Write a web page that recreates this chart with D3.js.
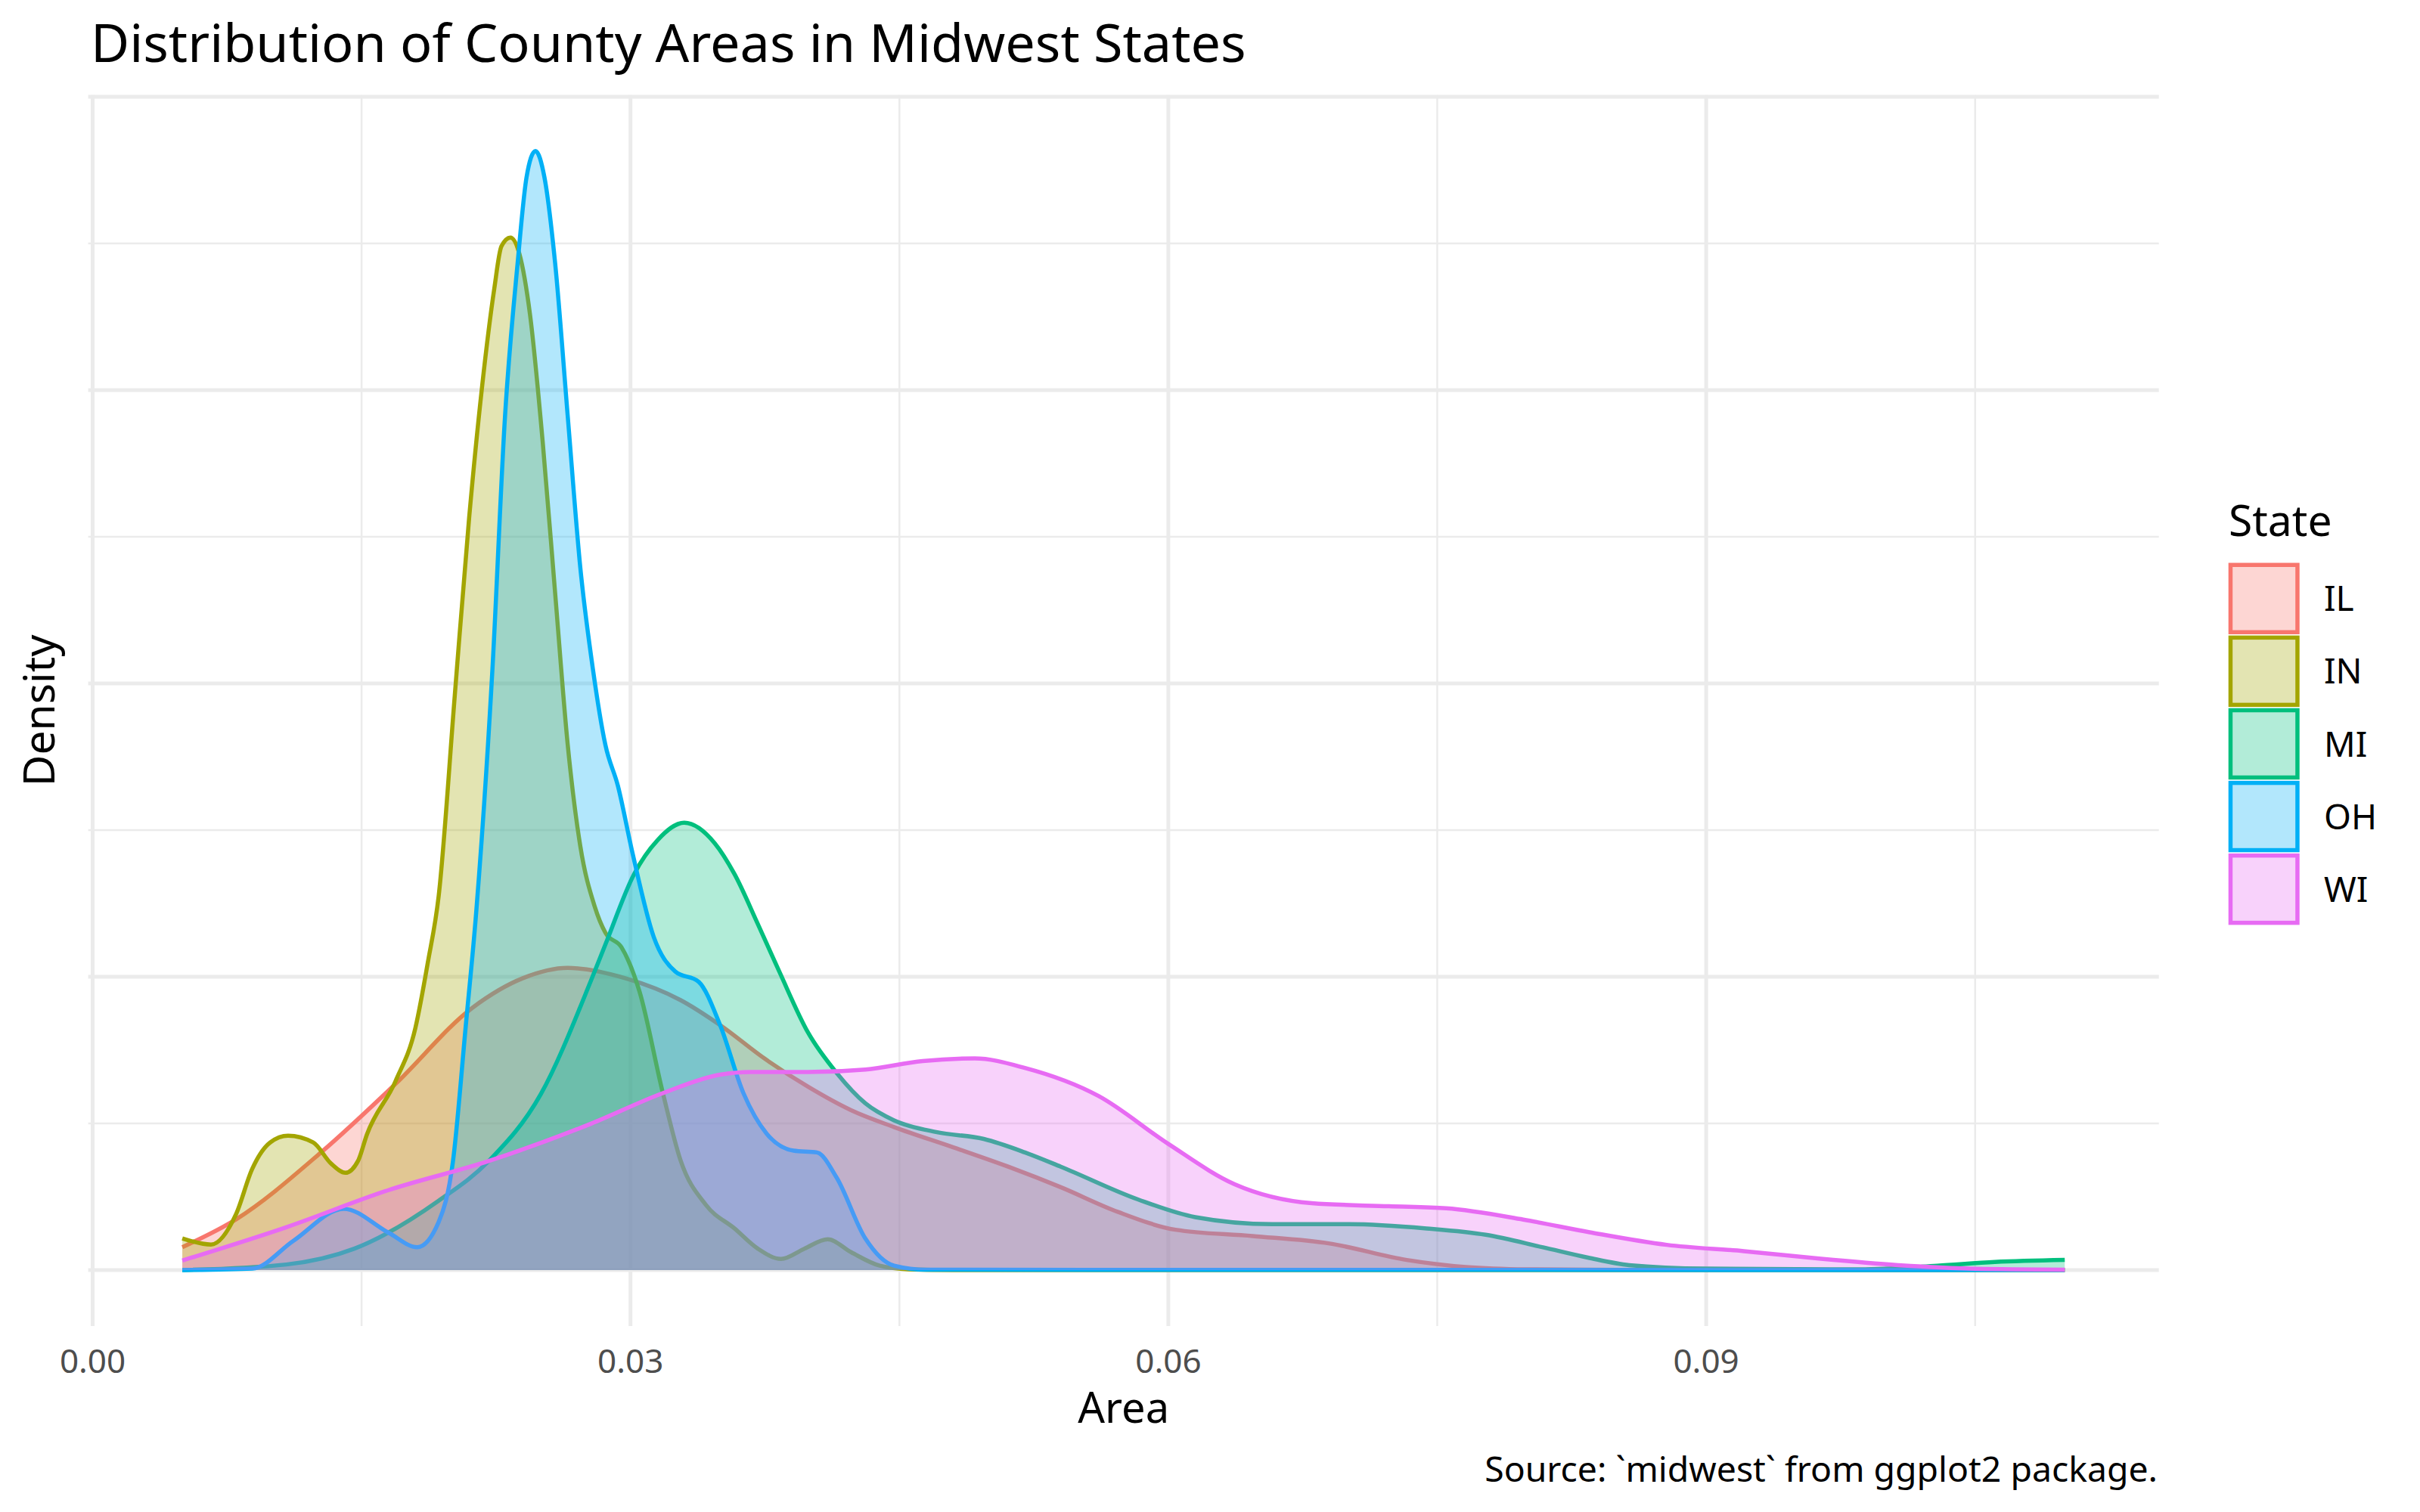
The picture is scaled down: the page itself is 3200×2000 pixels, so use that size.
<!DOCTYPE html>
<html>
<head>
<meta charset="utf-8">
<script src="https://cdn.jsdelivr.net/npm/d3@7"></script>
<style>
  html, body { margin: 0; padding: 0; background: #ffffff; }
  svg { display: block; }
  text { font-family: "Noto Sans", "DejaVu Sans", sans-serif; }
</style>
</head>
<body>
<svg id="chart" width="3200" height="2000"></svg>
<script>
// ---------------- data ----------------
const states = ["IL", "IN", "MI", "OH", "WI"];
const stateColors = ["#F8766D", "#A3A500", "#00BF7D", "#00B0F6", "#E76BF3"];

const areaIL    = [0.0050, 0.0080, 0.0127, 0.0169, 0.0212, 0.0240, 0.0265, 0.0297, 0.0328, 0.0350, 0.0375, 0.0399, 0.0423, 0.0447, 0.0480, 0.0512, 0.0540, 0.0572, 0.0604, 0.0647, 0.0690, 0.0733, 0.0766, 0.0800, 0.0850, 0.1100];
const densityIL = [1.56, 3.46, 7.98, 12.7, 17.9, 19.9, 20.6, 19.9, 18.4, 16.7, 14.4, 12.5, 10.9, 9.75, 8.37, 6.99, 5.65, 3.96, 2.75, 2.32, 1.81, 0.69, 0.21, 0.05, 0.01, 0];

const areaIN    = [0.0050, 0.0066, 0.0080, 0.0089, 0.0099, 0.0109, 0.0123, 0.0133, 0.0141, 0.0148, 0.0153, 0.0169, 0.0180, 0.0187, 0.0193, 0.0202, 0.0210, 0.0217, 0.0224, 0.0228, 0.0233, 0.0238, 0.0244, 0.0251, 0.0258, 0.0265, 0.0272, 0.0280, 0.0286, 0.0295, 0.0305, 0.0318, 0.0328, 0.0342, 0.0358, 0.0371, 0.0384, 0.0397, 0.0410, 0.0423, 0.0439, 0.0455, 0.0480, 0.1100];
const densityIN = [2.16, 1.74, 3.82, 6.9, 8.7, 9.16, 8.7, 7.26, 6.63, 7.44, 9.25, 12.9, 16.5, 21.0, 25.5, 39.2, 51.3, 60.0, 66.9, 69.8, 70.4, 69.3, 65.1, 56.5, 46.1, 35.8, 28.9, 24.8, 23.0, 22.0, 19.0, 12.1, 7.45, 4.45, 2.84, 1.46, 0.76, 1.46, 2.10, 1.22, 0.30, 0.05, 0, 0];

const areaMI    = [0.0050, 0.0108, 0.0146, 0.0193, 0.0221, 0.0250, 0.0278, 0.0286, 0.0302, 0.0315, 0.0330, 0.0347, 0.0358, 0.0371, 0.0383, 0.0399, 0.0415, 0.0431, 0.0447, 0.0471, 0.0497, 0.0520, 0.0540, 0.0583, 0.0615, 0.0658, 0.0701, 0.0744, 0.0777, 0.0809, 0.0834, 0.0857, 0.0900, 0.0986, 0.1029, 0.1061, 0.1100];
const densityMI = [0, 0.38, 1.46, 4.73, 7.44, 12.0, 19.75, 22.2, 27.0, 29.3, 30.5, 29.1, 27.0, 23.6, 20.35, 16.2, 13.44, 11.37, 10.21, 9.40, 8.94, 8.02, 7.05, 4.82, 3.61, 3.13, 3.13, 2.84, 2.41, 1.55, 0.85, 0.34, 0.1, 0.05, 0.30, 0.55, 0.69];

const areaOH    = [0.0050, 0.0089, 0.0112, 0.0140, 0.0165, 0.0181, 0.0193, 0.0201, 0.0208, 0.0214, 0.0223, 0.0230, 0.0237, 0.0242, 0.0247, 0.0252, 0.0258, 0.0265, 0.0272, 0.0279, 0.0286, 0.0293, 0.0301, 0.0313, 0.0325, 0.0338, 0.0350, 0.0363, 0.0376, 0.0391, 0.0404, 0.0415, 0.0431, 0.0447, 0.0465, 0.1100];
const densityOH = [0, 0.1, 2.0, 4.18, 2.55, 1.56, 3.28, 7.44, 16.5, 24.5, 41.0, 58.2, 68.6, 74.5, 76.3, 74.5, 68.6, 58.2, 47.9, 41.0, 35.8, 33.0, 28.5, 22.7, 20.35, 19.66, 16.7, 12.06, 9.29, 8.14, 8.02, 6.3, 2.15, 0.30, 0.02, 0];

const areaWI    = [0.0050, 0.0108, 0.0165, 0.0221, 0.0278, 0.0318, 0.0350, 0.0367, 0.0399, 0.0431, 0.0463, 0.0492, 0.0520, 0.0561, 0.0600, 0.0637, 0.0680, 0.0723, 0.0755, 0.0798, 0.0835, 0.0878, 0.0921, 0.0964, 0.1007, 0.1050, 0.1100];
const densityWI = [0.65, 2.92, 5.45, 7.44, 9.98, 12.06, 13.32, 13.5, 13.5, 13.67, 14.25, 14.43, 13.78, 11.87, 8.6, 5.85, 4.56, 4.35, 4.21, 3.44, 2.58, 1.72, 1.29, 0.77, 0.34, 0.09, 0.03];

const xMajorTicks = [0.00, 0.03, 0.06, 0.09];
const xTickLabels = ["0.00", "0.03", "0.06", "0.09"];
const xMinorTicks = [0.015, 0.045, 0.075, 0.105];
const yMajorTicks = [0, 20, 40, 60, 80];
const yMinorTicks = [10, 30, 50, 70];

const titleText = "Distribution of County Areas in Midwest States";
const xTitle = "Area";
const yTitle = "Density";
const legendTitle = "State";
const captionText = "Source: `midwest` from ggplot2 package.";

// ---------------- layout ----------------
const seriesArea = [areaIL, areaIN, areaMI, areaOH, areaWI];
const seriesDensity = [densityIL, densityIN, densityMI, densityOH, densityWI];

const panel = { left: 116.6, right: 2854.7, top: 125.7, bottom: 1754 };
const xMin = 0.005, xMax = 0.110;
const xPad = (xMax - xMin) * 0.05;
const yMaxData = d3.max(seriesDensity.flat());
const yPad = yMaxData * 0.05;

const x = d3.scaleLinear().domain([xMin - xPad, xMax + xPad]).range([panel.left, panel.right]);
const y = d3.scaleLinear().domain([-yPad, yMaxData + yPad]).range([panel.bottom, panel.top]);

const svg = d3.select("#chart");

// grid
const grid = svg.append("g");
const gridColor = "#EBEBEB";
grid.selectAll(".hminor").data(yMinorTicks).join("line")
  .attr("x1", panel.left).attr("x2", panel.right)
  .attr("y1", d => y(d)).attr("y2", d => y(d))
  .attr("stroke", gridColor).attr("stroke-width", 2.5);
grid.selectAll(".vminor").data(xMinorTicks).join("line")
  .attr("y1", panel.top).attr("y2", panel.bottom)
  .attr("x1", d => x(d)).attr("x2", d => x(d))
  .attr("stroke", gridColor).attr("stroke-width", 2.5);
grid.selectAll(".hmajor").data(yMajorTicks).join("line")
  .attr("x1", panel.left).attr("x2", panel.right)
  .attr("y1", d => y(d)).attr("y2", d => y(d))
  .attr("stroke", gridColor).attr("stroke-width", 5);
grid.selectAll(".vmajor").data(xMajorTicks).join("line")
  .attr("y1", panel.top).attr("y2", panel.bottom)
  .attr("x1", d => x(d)).attr("x2", d => x(d))
  .attr("stroke", gridColor).attr("stroke-width", 5);

// densities
const areaGen = d3.area().curve(d3.curveMonotoneX)
  .x(d => x(d[0])).y0(y(0)).y1(d => y(d[1]));
const lineGen = d3.line().curve(d3.curveMonotoneX)
  .x(d => x(d[0])).y(d => y(d[1]));

const marks = svg.append("g");
states.forEach((s, i) => {
  const pts = seriesArea[i].map((a, k) => [a, seriesDensity[i][k]]);
  marks.append("path").datum(pts)
    .attr("d", areaGen)
    .attr("fill", stateColors[i]).attr("fill-opacity", 0.3).attr("stroke", "none");
  marks.append("path").datum(pts)
    .attr("d", lineGen)
    .attr("fill", "none").attr("stroke", stateColors[i])
    .attr("stroke-width", 5.5).attr("stroke-linejoin", "round").attr("stroke-linecap", "butt");
});

// x tick labels
svg.append("g").selectAll("text").data(xMajorTicks).join("text")
  .attr("x", d => x(d)).attr("y", 1816)
  .attr("text-anchor", "middle")
  .attr("font-size", 44).attr("fill", "#4D4D4D")
  .text((d, i) => xTickLabels[i]);

// axis titles
svg.append("text").attr("x", (panel.left + panel.right) / 2).attr("y", 1882)
  .attr("text-anchor", "middle").attr("font-size", 56).attr("fill", "#000")
  .text(xTitle);
svg.append("text")
  .attr("transform", `translate(72,${(panel.top + panel.bottom) / 2}) rotate(-90)`)
  .attr("text-anchor", "middle").attr("font-size", 57).attr("fill", "#000")
  .text(yTitle);

// title
const title = svg.append("text").attr("x", 120).attr("y", 82)
  .attr("font-size", 70).attr("fill", "#000").text(titleText);
{
  const w = title.node().getComputedTextLength();
  const target = 1528;
  title.attr("font-size", 70 * target / w);
}

// caption
const cap = svg.append("text").attr("x", 2853).attr("y", 1960)
  .attr("text-anchor", "end").attr("font-size", 46).attr("fill", "#000")
  .text(captionText);
{
  const w = cap.node().getComputedTextLength();
  cap.attr("font-size", 46 * 890 / w);
}

// legend
const legend = svg.append("g");
legend.append("text").attr("x", 2947).attr("y", 709)
  .attr("font-size", 57).attr("fill", "#000").text(legendTitle);
const keyX = 2946.7, keyW = 94, keyH = 94.5, keyTop = 744.5, keyStep = 96.1, sw = 5.5;
states.forEach((s, i) => {
  const ky = keyTop + i * keyStep;
  legend.append("rect")
    .attr("x", keyX + sw / 2).attr("y", ky + sw / 2)
    .attr("width", keyW - sw).attr("height", keyH - sw)
    .attr("fill", stateColors[i]).attr("fill-opacity", 0.3)
    .attr("stroke", stateColors[i]).attr("stroke-width", sw);
  legend.append("text").attr("x", 3073).attr("y", ky + keyH / 2)
    .attr("dy", "0.36em").attr("font-size", 46).attr("fill", "#000").text(s);
});
</script>
</body>
</html>
